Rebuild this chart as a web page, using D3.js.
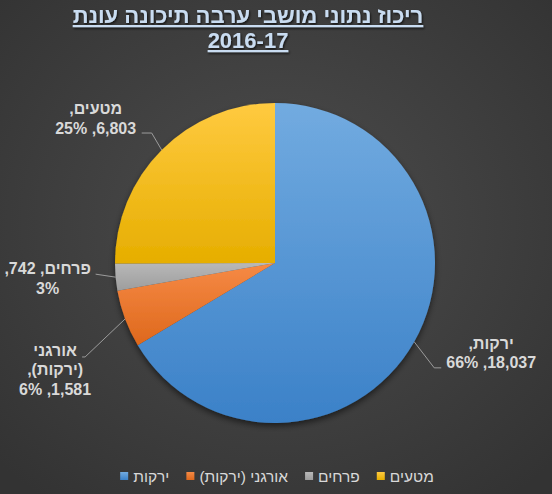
<!DOCTYPE html>
<html><head><meta charset="utf-8">
<script src="https://cdn.jsdelivr.net/npm/d3@7"></script>
<style>html,body{margin:0;padding:0;background:#3c3c3c;}svg{display:block;}</style>
</head><body>
<script>
// ---- data ----
const titleLines = ["ריכוז נתוני מושבי ערבה תיכונה עונת", "2016-17"];
const categories = ["ירקות", "אורגני (ירקות)", "פרחים", "מטעים"];
const values = [18037, 1581, 742, 6803];
const colorsTop = ["#72abe0", "#f68a45", "#b8b8b8", "#ffca40"];
const colorsBottom = ["#3b81c8", "#de681c", "#9d9d9d", "#e6ae00"];
// words per wrapped line of each data label
const labelWrap = [[1, 2], [1, 1, 2], [2, 1], [1, 2]];
// leader line geometry relative to the slice edge point: elbow, end, text centre offset, first baseline offset
const labelLayout = [
  {elbow: [20, 26], end: [27, 26], text: [77, 7]},
  {elbow: [-40, 38], end: [-43, 38], text: [-70, 37]},
  {elbow: [-20, -3], end: [-20, -3], text: [-68, -3]},
  {elbow: [-10, -17], end: [-20, -17], text: [-66, -36]}
];

const W = 552, H = 494;
const svg = d3.select("body").append("svg").attr("width", W).attr("height", H);
const defs = svg.append("defs");

const bg = defs.append("radialGradient").attr("id", "bg").attr("cx", "50%").attr("cy", "45%").attr("r", "70%");
bg.append("stop").attr("offset", "0%").attr("stop-color", "#4d4d4d");
bg.append("stop").attr("offset", "100%").attr("stop-color", "#333333");
svg.append("rect").attr("width", W).attr("height", H).attr("fill", "url(#bg)");

const sh = defs.append("filter").attr("id", "shadow").attr("x", "-20%").attr("y", "-20%").attr("width", "140%").attr("height", "140%");
sh.append("feDropShadow").attr("dx", 0).attr("dy", 3).attr("stdDeviation", 3).attr("flood-color", "#000").attr("flood-opacity", 0.55);
const tsh = defs.append("filter").attr("id", "tshadow");
tsh.append("feDropShadow").attr("dx", 1).attr("dy", 1.5).attr("stdDeviation", 1).attr("flood-color", "#000").attr("flood-opacity", 0.7);

categories.forEach((c, i) => {
  const g = defs.append("linearGradient").attr("id", "g" + i).attr("x1", 0).attr("y1", 0).attr("x2", 0).attr("y2", 1);
  g.append("stop").attr("offset", "0%").attr("stop-color", colorsTop[i]);
  g.append("stop").attr("offset", "100%").attr("stop-color", colorsBottom[i]);
});

// title
const title = svg.append("g").attr("filter", "url(#tshadow)");
titleLines.forEach((t, i) => {
  title.append("text").attr("x", 248).attr("y", 23 + i * 25)
    .attr("text-anchor", "middle").style("direction", "rtl")
    .attr("font-family", "Liberation Sans, Arial, sans-serif").attr("font-size", 22).attr("font-weight", "bold")
    .attr("fill", "#c9dcf1").attr("text-decoration", "underline").text(t);
});

// pie
const cx = 275, cy = 263, R = 160;
const data = categories.map((c, i) => ({name: c, value: values[i], i}));
const total = d3.sum(values);
const pie = d3.pie().value(d => d.value).sort(null);
const arcs = pie(data);
const arc = d3.arc().innerRadius(0).outerRadius(R);
const pg = svg.append("g").attr("transform", `translate(${cx},${cy})`);
pg.append("g").attr("filter", "url(#shadow)").selectAll("path").data(arcs).join("path")
  .attr("d", arc).attr("fill", d => `url(#g${d.data.i})`);

// labels
const fmt = d3.format(",");
const pct = d3.format(".0%");
const lg = svg.append("g");
arcs.forEach((a, k) => {
  const mid = (a.startAngle + a.endAngle) / 2;
  const ex = cx + R * Math.sin(mid), ey = cy - R * Math.cos(mid);
  const L = labelLayout[k];
  lg.append("polyline")
    .attr("points", [[ex, ey], [ex + L.elbow[0], ey + L.elbow[1]], [ex + L.end[0], ey + L.end[1]]].map(p => p.join(",")).join(" "))
    .attr("fill", "none").attr("stroke", "#a6a6a6").attr("stroke-width", 0.9);
  const words = (a.data.name + ", " + fmt(a.data.value) + ", " + pct(a.data.value / total)).split(" ");
  let idx = 0;
  labelWrap[k].forEach((n, li) => {
    const line = words.slice(idx, idx + n).join(" ");
    idx += n;
    lg.append("text").attr("x", ex + L.text[0]).attr("y", ey + L.text[1] + li * 19.5)
      .attr("text-anchor", "middle").style("direction", "rtl")
      .attr("font-family", "Liberation Sans, Arial, sans-serif").attr("font-size", 16).attr("font-weight", "bold")
      .attr("fill", "#d9d9d9").text(line);
  });
});

// legend
const leg = svg.append("g");
let x = 0;
data.forEach((d, i) => {
  const g = leg.append("g");
  g.append("rect").attr("x", x).attr("y", -4).attr("width", 8).attr("height", 8).attr("fill", `url(#g${i})`);
  const t = g.append("text").attr("y", 5.5).style("direction", "rtl").attr("text-anchor", "middle")
    .attr("font-family", "Liberation Sans, Arial, sans-serif").attr("font-size", 15.5).attr("fill", "#d9d9d9").text(d.name);
  const w = t.node().getComputedTextLength();
  t.attr("x", x + 13 + w / 2);
  x += 13 + w + 17;
});
const legW = x - 17;
leg.attr("transform", `translate(${(W - legW) / 2 + 1},476)`);
</script>
</body></html>
